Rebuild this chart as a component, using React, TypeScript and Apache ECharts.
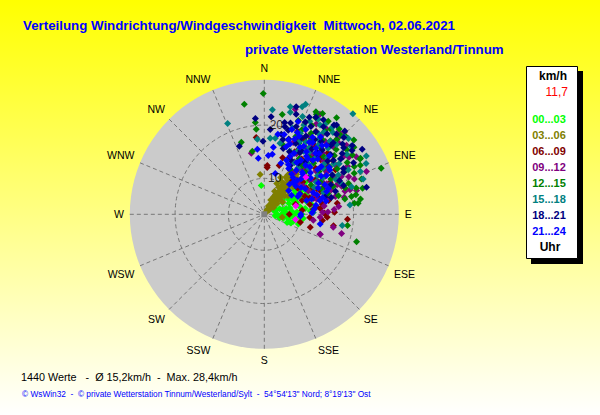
import React, { useEffect, useRef } from "react";
import * as echarts from "echarts";

type Pt = [number, number]; // [km/h, degrees]

const compassLabels = ["N","NNE","NE","ENE","E","ESE","SE","SSE","S","SSW","SW","WSW","W","WNW","NW","NNW"];
const ringValues: Pt[] = [[10, 3.5], [20, 2.5]];
const titleLine1 = "Verteilung Windrichtung/Windgeschwindigkeit  Mittwoch, 02.06.2021";
const titleLine2 = "private Wetterstation Westerland/Tinnum";
const statsLine = "1440 Werte   -  Ø 15,2km/h  -  Max. 28,4km/h";
const creditLine = "© WsWin32  -  © private Wetterstation Tinnum/Westerland/Sylt  -  54°54'13\" Nord; 8°19'13\" Ost";
const legendUnit = "km/h";
const legendCurrent = "11,7";
const legendFooter = "Uhr";
const timeLabels = ["00...03","03...06","06...09","09...12","12...15","15...18","18...21","21...24"];
const timeColors = ["#00ff00","#808000","#800000","#800080","#008000","#008080","#000080","#0000ff"];
const drawOrder = [0, 1, 2, 3, 4, 5, 6, 7];

const h00: Pt[] = [[8.69,354],[4.6,35],[5.1,60],[5.4,80],[5.8,95],[6.1,50],[6.3,70],[6.6,88],[6.9,102],[7.1,42],[7.3,58],[7.5,75],[7.7,92],[7.9,100],[8.1,48],[8.3,66],[8.4,83],[8.7,94],[8.9,38],[9.1,55],[9.2,72],[9.4,86],[9.6,98],[9.8,44],[10,62],[10.1,78],[10.3,90],[10.5,52],[10.8,68],[11,82],[11.2,40],[11.4,58],[11.6,74],[11.8,47],[12,64],[5.6,68],[6.4,42],[7.2,84],[7.6,52],[8.2,76],[8.6,58],[9,90],[9.7,70],[10.2,56],[10.9,48],[11.5,66],[6.8,76],[7.4,96],[8.8,104],[9.3,64],[12.4,58],[12.8,70],[13.1,52],[13.4,62],[11.9,86],[12.3,78],[10.6,96],[9.9,106],[8.5,108],[7.8,110],[6.2,104],[5.3,98]];
const h03: Pt[] = [[10.75,354],[6.66,99.5],[3.6,35],[3.9,42],[4.2,30],[4.4,48],[4.7,36],[5,26],[5.2,44],[5.4,54],[5.7,32],[6,40],[6.2,24],[6.4,50],[6.7,34],[7,28],[7.2,44],[7.4,56],[7.7,38],[8,24],[8.2,32],[8.4,48],[8.7,42],[9,28],[9.2,36],[9.5,22],[9.7,44],[10,34],[10.2,28],[10.5,40],[10.8,24],[11,34],[11.3,30],[11.6,38],[11.9,31],[12.2,33],[12.6,37.3],[13.87,37.3],[6.1,46],[7.6,30],[8.9,52],[10.7,46],[4.1,38],[4.9,44],[5.5,38],[5.9,36],[6.5,42],[6.9,38],[7.3,34],[7.9,44],[8.1,40],[8.6,34],[9.1,40],[9.4,31],[9.9,38],[10.3,36],[10.9,39],[11.4,35],[12,37],[12.4,41],[12.9,39]];
const h06: Pt[] = [[12.44,3.5],[12.07,3.5],[12.82,17],[17.1,81.4],[15.52,72.2],[16.44,88.4],[14.56,89],[15.07,92.7],[18.9,93.4],[16.42,99.3],[7.94,90],[10.17,102.5],[12.22,105.8],[14.24,96.2],[14.56,89.3],[17.77,354],[14.43,17.9],[9.4,72],[10.4,84],[11,60],[11.8,94],[12.3,70],[12.7,50],[13.1,82],[13.6,62],[14,74],[14.4,42],[14.9,56],[15.3,66],[15.8,34],[16.2,48],[16.7,58],[17.2,28],[17.7,40],[18.2,52],[18.8,24],[19.3,36],[19.8,46],[20.4,30],[21,42],[11.5,40],[12.9,30],[13.4,46],[15,24],[16,38],[17,64],[18,46],[19,58],[20,22],[13.8,84],[15.6,78],[14.7,68],[12,78],[10.8,70],[11.2,52],[12.1,44],[12.6,58],[13.2,36],[13.9,52],[14.2,64],[14.6,30],[15.2,44],[15.7,60],[16.3,26],[16.8,42],[17.4,54],[17.9,32],[18.5,44],[19.1,28],[19.6,52],[20.7,38],[21.6,32],[13,72],[14.3,80],[11.6,66],[12.5,84]];
const h09: Pt[] = [[23.79,16.4],[14.96,348],[24.73,29.1],[24.04,67.3],[21.4,68.6],[21.13,75.6],[18.2,104],[14.36,109.8],[14.41,109.6],[12.52,97],[13.76,93],[16.42,100.7],[24.75,44.3],[13.7,46],[11.8,48],[12.6,62],[13,36],[13.5,74],[14,54],[14.6,82],[15.1,44],[15.6,60],[16.1,28],[16.6,70],[17.1,50],[17.6,38],[18.1,62],[18.6,78],[19.1,44],[19.6,56],[20.1,30],[20.6,66],[21.1,40],[21.6,54],[22.1,24],[22.6,46],[23.1,36],[23.6,58],[24.1,42],[20,74],[18.7,70],[17.3,84],[16.4,86],[15.2,88],[14.2,88],[19.4,24],[21.3,60],[22.8,30],[23.4,50],[17.9,32],[12.3,54],[13.3,68],[14.4,40],[14.9,58],[15.5,34],[15.9,50],[16.3,64],[16.9,42],[17.4,56],[17.8,22],[18.3,48],[18.9,34],[19.3,64],[19.8,40],[20.3,50],[20.9,26],[21.4,46],[21.9,36],[22.4,56],[23,44],[15.4,76],[17,76],[18,68],[19,74]];
const h12: Pt[] = [[25.95,359.5],[24.26,349.7],[20.58,354.4],[19.27,354.6],[17.43,342.3],[15.28,349.2],[26.83,68.5],[24.15,59.8],[23.5,62.9],[22.37,62],[21.8,65.5],[22.67,70],[22.33,75.2],[21.54,81],[20.99,83.3],[20.27,83],[20.83,78],[19.95,78.5],[18.64,79.3],[19.01,97.7],[21.32,106.5],[22.31,10.2],[24.82,26.7],[25.12,30],[24.45,27.5],[24.45,34.5],[25.89,36.8],[24.56,41.3],[25.1,50.3],[24.26,53.2],[16.68,15.4],[13,30],[14,50],[14.8,38],[15.4,60],[16,26],[16.6,44],[17.2,68],[17.8,34],[18.4,54],[19,22],[19.6,40],[20.2,62],[20.8,30],[21.4,48],[22,20],[22.6,36],[23.2,56],[23.8,28],[24.4,46],[21.2,74],[19.2,72],[18,60],[22.8,44],[20.6,24],[15.8,72],[17.6,76],[13.6,58],[14.3,44],[15,66],[15.6,32],[16.3,52],[16.9,38],[17.4,62],[18.1,26],[18.8,46],[19.4,58],[19.9,32],[20.4,50],[21,38],[21.6,58],[22.2,28],[22.9,52],[23.5,38],[24,60],[18.6,66],[20.1,70],[23.9,44],[21.8,42]];
const h15: Pt[] = [[21.63,338],[22.95,4.4],[17.38,354.7],[17.55,4.5],[17.66,8.2],[25.3,60.3],[24.6,63.5],[23,66],[22.95,70.4],[20.43,72.4],[19.42,83.8],[18.03,98.2],[12.44,88],[24.04,13.6],[23,14.3],[25.3,20.6],[24.67,19.4],[22.95,21.4],[23.75,29.6],[24.17,45.8],[16.89,12.5],[28.4,41.4],[14,36],[14.7,58],[15.3,44],[16,22],[16.7,66],[17.2,32],[17.9,50],[18.5,26],[19,62],[19.7,38],[20.3,18],[20.9,54],[21.5,34],[22.1,46],[22.7,26],[23.3,40],[23.9,52],[15.6,54],[16.4,38],[17.5,42],[18.3,34],[19.2,48],[20.5,44],[21.6,24],[22.3,36],[23.6,34],[18.8,68],[20.2,56],[13.2,46],[13.9,62],[14.5,30],[15.1,70],[15.8,42],[16.2,58],[16.8,28],[17.3,52],[17.8,36],[18.2,64],[18.9,30],[19.4,54],[19.9,24],[20.6,36],[21.1,62],[21.7,42],[22.4,54],[23,32],[24,38],[24.5,48]];
const h18: Pt[] = [[21.63,4],[21.33,354.7],[19.2,4],[16.95,359],[16.85,339.8],[23.1,75.2],[24.33,16.5],[22.95,17.7],[23.32,24.9],[24.8,39],[25.31,56.4],[20.9,12.5],[20.15,13.3],[19.65,15.9],[13.6,28],[14.8,34],[15.9,22],[17,30],[18.1,18],[18.6,40],[19.2,26],[19.7,52],[20.2,34],[20.8,20],[21.3,44],[21.9,28],[22.4,38],[23,48],[23.6,54],[24.2,32],[18.7,66],[17.3,72],[16.2,76],[15.1,74],[20.4,60],[21.8,52],[22.6,60],[24,46],[18.6,12],[17.7,14],[16.1,16],[14.6,26],[15.7,38],[16.6,30],[16.9,66],[17.8,24],[18,60],[18.4,36],[18.8,50],[19.1,70],[19.5,42],[19.9,28],[20.1,62],[20.6,38],[21,54],[21.1,16],[21.5,32],[21.9,44],[22.2,24],[22.7,50],[23.1,34],[23.5,42],[23.9,28],[24.2,52],[24.5,38],[25,44],[20,48],[18.3,42]];
const h21: Pt[] = [[15.93,7.7],[15.52,353.9],[13.81,353.9],[14.32,3.9],[14.6,7.6],[11.2,15],[18.5,9.6],[14.2,22.4],[13.32,18.1],[13.9,99.8],[10.06,92.7],[9.5,55],[10.4,62],[11.2,48],[11.6,72],[12,38],[12.3,58],[12.7,84],[13,28],[13.3,66],[13.7,44],[14,76],[14.3,52],[14.7,32],[15,60],[15.3,40],[15.7,70],[16,26],[16.3,50],[16.7,36],[17,58],[17.3,20],[17.7,44],[18,30],[18.3,54],[18.7,14],[19,38],[19.3,24],[19.7,48],[20,18],[20.3,32],[20.7,42],[21,26],[12.1,44],[12.6,72],[13.5,36],[14.9,48],[15.5,34],[16.1,56],[16.9,42],[17.5,28],[18.2,40],[13.9,42],[15.2,24],[15.9,64],[16.6,18],[17.2,50],[18.5,22],[19.5,34],[10.9,60],[11.3,42],[11.8,54],[12.4,34],[12.8,46],[13.1,80],[13.6,26],[13.8,70],[14.5,64],[15.1,78],[15.6,44],[16.2,68],[16.5,38],[17.4,34],[17.9,18],[18.1,56],[18.6,42],[19.2,32],[19.8,22],[20.1,40],[21.2,36],[21.8,20],[10.1,90],[12.2,88],[14.6,74],[9.6,46],[10.6,40]];
const highlight: Pt[] = [[9.2,99.6],[13.7,48.4],[9.4,74.7]];
const originMark: Pt[] = [[3.25,0]];

const timeSeries = [h00,h03,h06,h09,h12,h15,h18,h21];

const FONT = '"Liberation Sans", Arial, sans-serif';
const GRID = "#777777";

export default function App() {
  const ref = useRef<HTMLDivElement>(null);
  useEffect(() => {
    document.body.style.margin = "0";
    const chart = echarts.init(ref.current!, undefined, { renderer: "svg" });
    const rowTexts = timeLabels.map((label, i) => ({
      type: "text", z: 100, x: 549, y: 119 + i * 16,
      style: { text: label, fill: timeColors[i], font: `bold 11px ${FONT}`, align: "center", verticalAlign: "middle" },
    }));
    chart.setOption({
      animation: false,
      backgroundColor: new echarts.graphic.LinearGradient(0, 0, 0, 1, [
        { offset: 0, color: "#ffff00" },
        { offset: 1, color: "#ffffff" },
      ]),
      polar: { center: [264.3, 214.3], radius: 134.5 },
      angleAxis: {
        type: "value", min: 0, max: 360, interval: 22.5, startAngle: 90,
        axisLine: { show: false }, axisTick: { show: false },
        axisLabel: {
          margin: 6, color: "#000", fontFamily: FONT, fontSize: 10.5, align: "center", verticalAlign: "middle",
          formatter: (v: number) => compassLabels[Math.round(v / 22.5) % 16],
        },
        splitLine: { show: true, lineStyle: { color: GRID, type: [4, 3], width: 1 } },
      },
      radiusAxis: {
        type: "value", min: 3.25, max: 28.5,
        axisLine: { show: false },
        axisTick: { show: false, customValues: ringValues.map((p) => p[0]) },
        axisLabel: { show: false, customValues: ringValues.map((p) => p[0]) },
        splitLine: { show: true, lineStyle: { color: GRID, type: [4, 3], width: 1 } },
      },
      series: [
        ...drawOrder.map((i) => ({
          type: "scatter", coordinateSystem: "polar", name: timeLabels[i], data: timeSeries[i],
          symbol: "diamond", symbolSize: 7, itemStyle: { color: timeColors[i], opacity: 1 },
        })),
        { type: "scatter", coordinateSystem: "polar", name: "aktuell", data: highlight, symbol: "diamond", symbolSize: 7, itemStyle: { color: "#ff00ff", opacity: 1 } },
        { type: "scatter", coordinateSystem: "polar", name: "Ursprung", data: originMark, symbol: "rect", symbolSize: 6, itemStyle: { color: "#808080", opacity: 1 } },
        ...ringValues.map((p) => ({
          type: "scatter", coordinateSystem: "polar", name: "Ring " + p[0], data: [p], symbol: "circle", symbolSize: 1,
          itemStyle: { color: "rgba(0,0,0,0)" }, z: 20,
          label: { show: true, position: "right", distance: 1, color: "#000", fontFamily: FONT, fontSize: 12, formatter: () => String(p[0]) },
        })),
      ],
      graphic: [
        { type: "circle", z: -1, shape: { cx: 264.3, cy: 214.3, r: 134.5 }, style: { fill: "#cbcbcb" } },
        { type: "text", x: 23, y: 25, style: { text: titleLine1, fill: "#0000ff", font: `bold 13.3px ${FONT}`, verticalAlign: "middle" } },
        { type: "text", x: 245, y: 49, style: { text: titleLine2, fill: "#0000ff", font: `bold 13.3px ${FONT}`, verticalAlign: "middle" } },
        { type: "text", x: 21, y: 377, style: { text: statsLine, fill: "#000", font: `10.8px ${FONT}`, verticalAlign: "middle" } },
        { type: "text", x: 22, y: 394, style: { text: creditLine, fill: "#0000ff", font: `8.3px ${FONT}`, verticalAlign: "middle" } },
        { type: "rect", z: 98, shape: { x: 531, y: 71, width: 52, height: 193 }, style: { fill: "#000" } },
        { type: "rect", z: 99, shape: { x: 526.5, y: 66.5, width: 51, height: 192 }, style: { fill: "#fff", stroke: "#000", lineWidth: 1 } },
        { type: "text", z: 100, x: 553, y: 76, style: { text: legendUnit, fill: "#000", font: `bold 12px ${FONT}`, align: "center", verticalAlign: "middle" } },
        { type: "text", z: 100, x: 568, y: 92, style: { text: legendCurrent, fill: "#ff0000", font: `12px ${FONT}`, align: "right", verticalAlign: "middle" } },
        ...rowTexts,
        { type: "text", z: 100, x: 550, y: 247, style: { text: legendFooter, fill: "#000", font: `bold 12px ${FONT}`, align: "center", verticalAlign: "middle" } },
      ],
    });
    return () => chart.dispose();
  }, []);
  return <div ref={ref} style={{ width: 600, height: 415, position: "absolute", left: 0, top: 0 }} />;
}
